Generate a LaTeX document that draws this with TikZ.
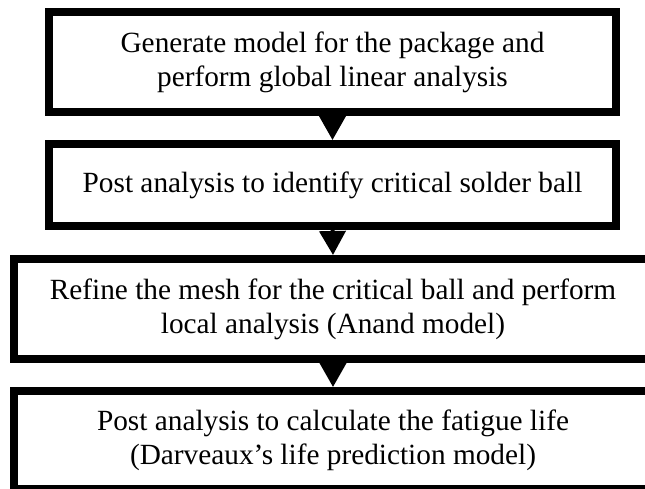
\documentclass[tikz,border=0pt]{standalone}
\usepackage{fontspec}
\setmainfont{Liberation Serif}
\usetikzlibrary{arrows.meta}
\begin{document}
\begin{tikzpicture}[x=1pt,y=-1pt,
  stepbox/.style={draw, line width=8pt, align=center, inner sep=0pt,
    font=\fontsize{29.3}{34}\selectfont},
  flow/.style={line width=4pt, -{Triangle[width=26pt,length=24pt]}}]
\useasboundingbox (0,0) rectangle (645,489);
\fill[white] (0,0) rectangle (645,489);
\node[stepbox, minimum width=567pt, minimum height=100pt] (b1) at (332.5,62)
  {Generate model for the package and\\perform global linear analysis};
\node[stepbox, minimum width=567pt, minimum height=82pt] (b2) at (332.5,185)
  {Post analysis to identify critical solder ball};
\node[stepbox, minimum width=638pt, minimum height=100pt] (b3) at (333,309)
  {Refine the mesh for the critical ball and perform\\local analysis (Anand model)};
\node[stepbox, minimum width=638pt, minimum height=98pt] (b4) at (333,440)
  {Post analysis to calculate the fatigue life\\(Darveaux’s life prediction model)};
\draw[flow] (b1.south) -- (b2.north);
\draw[flow] (b2.south) -- (b3.north);
\draw[flow] (b3.south) -- (b4.north);
\end{tikzpicture}
\end{document}
